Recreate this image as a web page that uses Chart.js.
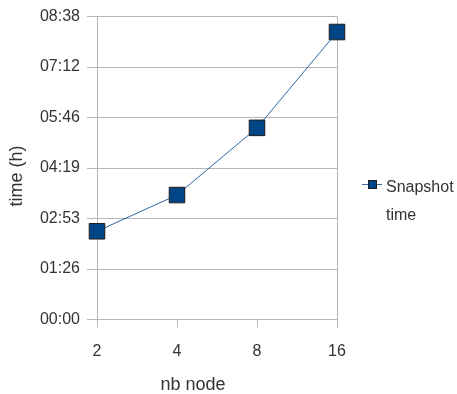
<!DOCTYPE html>
<html>
<head>
<meta charset="utf-8">
<script src="https://cdn.jsdelivr.net/npm/chart.js@4.4.1/dist/chart.umd.min.js"></script>
<style>
  html, body { margin: 0; padding: 0; background: #fff; }
  #wrap { width: 457px; height: 394px; position: relative; }
</style>
</head>
<body>
<div id="wrap"><canvas id="chart" width="457" height="394"></canvas></div>
<script>
// data (time in minutes)
const nodes = ["2", "4", "8", "16"];
const snapshotTime = [151, 213, 328, 492];
const yTicks = [0, 86.4, 172.8, 259.2, 345.6, 432, 518.4];
const yTickLabels = ["00:00", "01:26", "02:53", "04:19", "05:46", "07:12", "08:38"];
const seriesName = ["Snapshot", "time"];
const xTitle = "nb node";
const yTitle = "time (h)";

const gridColor = "#b8b5ba";
const textColor = "#333333";
const fontFamily = "'Liberation Sans', Arial, sans-serif";

// right border of the plot, axis titles and legend
const extras = {
    id: "extras",
    beforeDatasetsDraw(chart) {
        const ctx = chart.ctx;
        const area = chart.chartArea;
        ctx.save();
        ctx.strokeStyle = gridColor;
        ctx.lineWidth = 1;
        ctx.beginPath();
        ctx.moveTo(Math.round(area.right) + 0.5, area.top);
        ctx.lineTo(Math.round(area.right) + 0.5, area.bottom + 8);
        ctx.stroke();
        ctx.restore();
    },
    afterDraw(chart) {
        const ctx = chart.ctx;
        ctx.save();
        ctx.fillStyle = textColor;
        ctx.textBaseline = "middle";
        ctx.textAlign = "center";
        ctx.font = "18px " + fontFamily;
        ctx.fillText(xTitle, 193, 385);
        ctx.translate(17, 176);
        ctx.rotate(-Math.PI / 2);
        ctx.fillText(yTitle, 0, 0);
        ctx.setTransform(1, 0, 0, 1, 0, 0);

        // legend
        const lx = 362, ly = 184.5;
        ctx.strokeStyle = "#3a6ea5";
        ctx.lineWidth = 1;
        ctx.beginPath();
        ctx.moveTo(lx, ly);
        ctx.lineTo(lx + 20, ly);
        ctx.stroke();
        ctx.fillStyle = "#004586";
        ctx.fillRect(lx + 6, ly - 4.5, 9, 9);
        ctx.strokeStyle = "#1c1c1c";
        ctx.strokeRect(lx + 6.5, ly - 4, 8, 8);

        ctx.fillStyle = textColor;
        ctx.font = "16px " + fontFamily;
        ctx.textAlign = "left";
        ctx.fillText(seriesName[0], 386, 188);
        ctx.fillText(seriesName[1], 386, 216);
        ctx.restore();
    }
};

new Chart(document.getElementById("chart"), {
    type: "line",
    data: {
        labels: nodes,
        datasets: [{
            label: seriesName.join(" "),
            data: snapshotTime,
            borderColor: "#2f66a0",
            borderWidth: 1,
            pointStyle: "rect",
            pointRadius: 11,
            pointBackgroundColor: "#004586",
            pointBorderColor: "#1c1c1c",
            pointBorderWidth: 1,
            tension: 0,
        }]
    },
    options: {
        responsive: false,
        animation: false,
        layout: {
            padding: { top: 14, right: 120, left: 0, bottom: 0 }
        },
        plugins: {
            legend: { display: false },
            tooltip: { enabled: false }
        },
        scales: {
            x: {
                offset: false,
                grid: {
                    drawOnChartArea: false,
                    color: gridColor,
                    tickLength: 8,
                },
                border: { color: gridColor },
                ticks: {
                    color: textColor,
                    font: { family: fontFamily, size: 16 },
                    padding: 14,
                },
                afterFit(scale) { scale.height = 74.5; }
            },
            y: {
                min: 0,
                max: 518.4,
                grid: {
                    color: gridColor,
                    tickLength: 10,
                },
                border: { color: gridColor },
                afterBuildTicks(scale) {
                    scale.ticks = yTicks.map(v => ({ value: v }));
                },
                ticks: {
                    color: textColor,
                    font: { family: fontFamily, size: 16 },
                    padding: 7,
                    callback: (value, i) => yTickLabels[i],
                },
                afterFit(scale) { scale.width = 97; }
            }
        }
    },
    plugins: [extras]
});
</script>
</body>
</html>
